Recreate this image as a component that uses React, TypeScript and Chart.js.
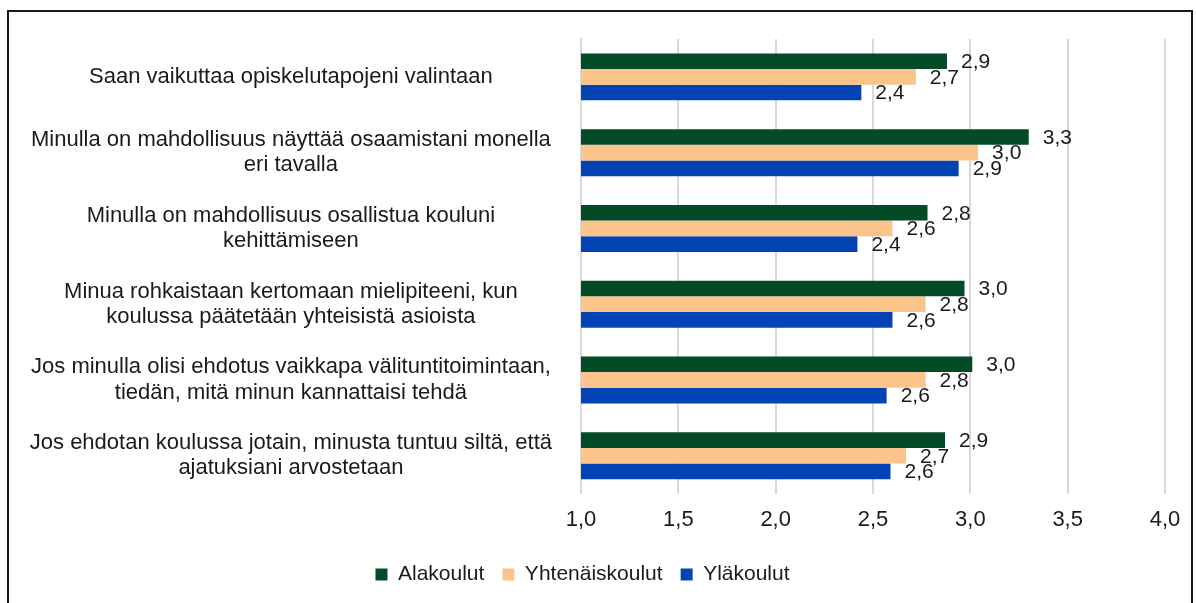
import React, { useEffect, useRef } from "react";
import { Chart, registerables } from "chart.js";

Chart.register(...registerables);

const categories: string[][] = [
  ["Saan vaikuttaa opiskelutapojeni valintaan"],
  ["Minulla on mahdollisuus näyttää osaamistani monella", "eri tavalla"],
  ["Minulla on mahdollisuus osallistua kouluni", "kehittämiseen"],
  ["Minua rohkaistaan kertomaan mielipiteeni, kun", "koulussa päätetään yhteisistä asioista"],
  ["Jos minulla olisi ehdotus vaikkapa välituntitoimintaan,", "tiedän, mitä minun kannattaisi tehdä"],
  ["Jos ehdotan koulussa jotain, minusta tuntuu siltä, että", "ajatuksiani arvostetaan"],
];

const alakoulut = [2.88, 3.3, 2.78, 2.97, 3.01, 2.87];
const yhtenaiskoulut = [2.72, 3.04, 2.6, 2.77, 2.77, 2.67];
const ylakoulut = [2.44, 2.94, 2.42, 2.6, 2.57, 2.59];

const seriesNames = ["Alakoulut", "Yhtenäiskoulut", "Yläkoulut"];
const xTicks = [1.0, 1.5, 2.0, 2.5, 3.0, 3.5, 4.0];

const FONT = "'Liberation Sans', Arial, sans-serif";
const fmt = (v: number) => v.toFixed(1).replace(".", ",");

const valueLabels = {
  id: "valueLabels",
  afterDatasetsDraw(chart: any) {
    const ctx = chart.ctx;
    ctx.save();
    ctx.font = `21px ${FONT}`;
    ctx.fillStyle = "#1a1a1a";
    ctx.textAlign = "left";
    ctx.textBaseline = "middle";
    chart.data.datasets.forEach((ds: any, i: number) => {
      const meta = chart.getDatasetMeta(i);
      meta.data.forEach((bar: any, j: number) => {
        ctx.fillText(fmt(ds.data[j]), bar.x + 14, bar.y + 1);
      });
    });
    ctx.restore();
  },
};

export default function App() {
  const ref = useRef<HTMLCanvasElement>(null);
  useEffect(() => {
    if (!ref.current) return;
    const chart = new Chart(ref.current, {
      type: "bar",
      data: {
        labels: categories,
        datasets: [
          { label: seriesNames[0], data: alakoulut, backgroundColor: "#034a26" },
          { label: seriesNames[1], data: yhtenaiskoulut, backgroundColor: "#fac48b" },
          { label: seriesNames[2], data: ylakoulut, backgroundColor: "#0443b3" },
        ],
      },
      options: {
        indexAxis: "y",
        animation: false,
        responsive: false,
        maintainAspectRatio: false,
        layout: { padding: { left: 0, right: 31, top: 39, bottom: 8 } },
        datasets: { bar: { categoryPercentage: 0.62, barPercentage: 1 } },
        scales: {
          x: {
            min: 1,
            max: 4,
            afterBuildTicks: (axis: any) => {
              axis.ticks = xTicks.map((v) => ({ value: v }));
            },
            ticks: {
              font: { family: FONT, size: 22 },
              color: "#1a1a1a",
              padding: 13,
              callback: (v: any) => fmt(Number(v)),
            },
            grid: { color: "#d9d9d9", lineWidth: 2, drawTicks: false },
            border: { display: false },
          },
          y: {
            afterFit: (scale: any) => {
              scale.width = 581;
              scale.paddingTop = 0;
              scale.paddingBottom = 0;
            },
            ticks: {
              font: { family: FONT, size: 22, lineHeight: 1.15 },
              color: "#1a1a1a",
              padding: 29,
              crossAlign: "center",
            },
            grid: { display: false, drawTicks: false },
            border: { display: true, color: "#d9d9d9", width: 2 },
          },
        },
        plugins: {
          legend: {
            position: "bottom",
            labels: {
              font: { family: FONT, size: 21 },
              color: "#1a1a1a",
              boxWidth: 12,
              boxHeight: 12,
              padding: 18,
            },
          },
          tooltip: { enabled: false },
        },
      },
      plugins: [valueLabels],
    });
    return () => chart.destroy();
  }, []);
  return (
    <div style={{ position: "fixed", left: 0, top: 0, width: 1196, height: 603, background: "#fff" }}>
      <canvas ref={ref} width={1196} height={603} style={{ position: "absolute", left: 0, top: 0 }} />
      <div
        style={{
          position: "absolute",
          left: 7,
          top: 10,
          width: 1186,
          height: 600,
          border: "2px solid #1a1a1a",
          boxSizing: "border-box",
          pointerEvents: "none",
        }}
      />
    </div>
  );
}
